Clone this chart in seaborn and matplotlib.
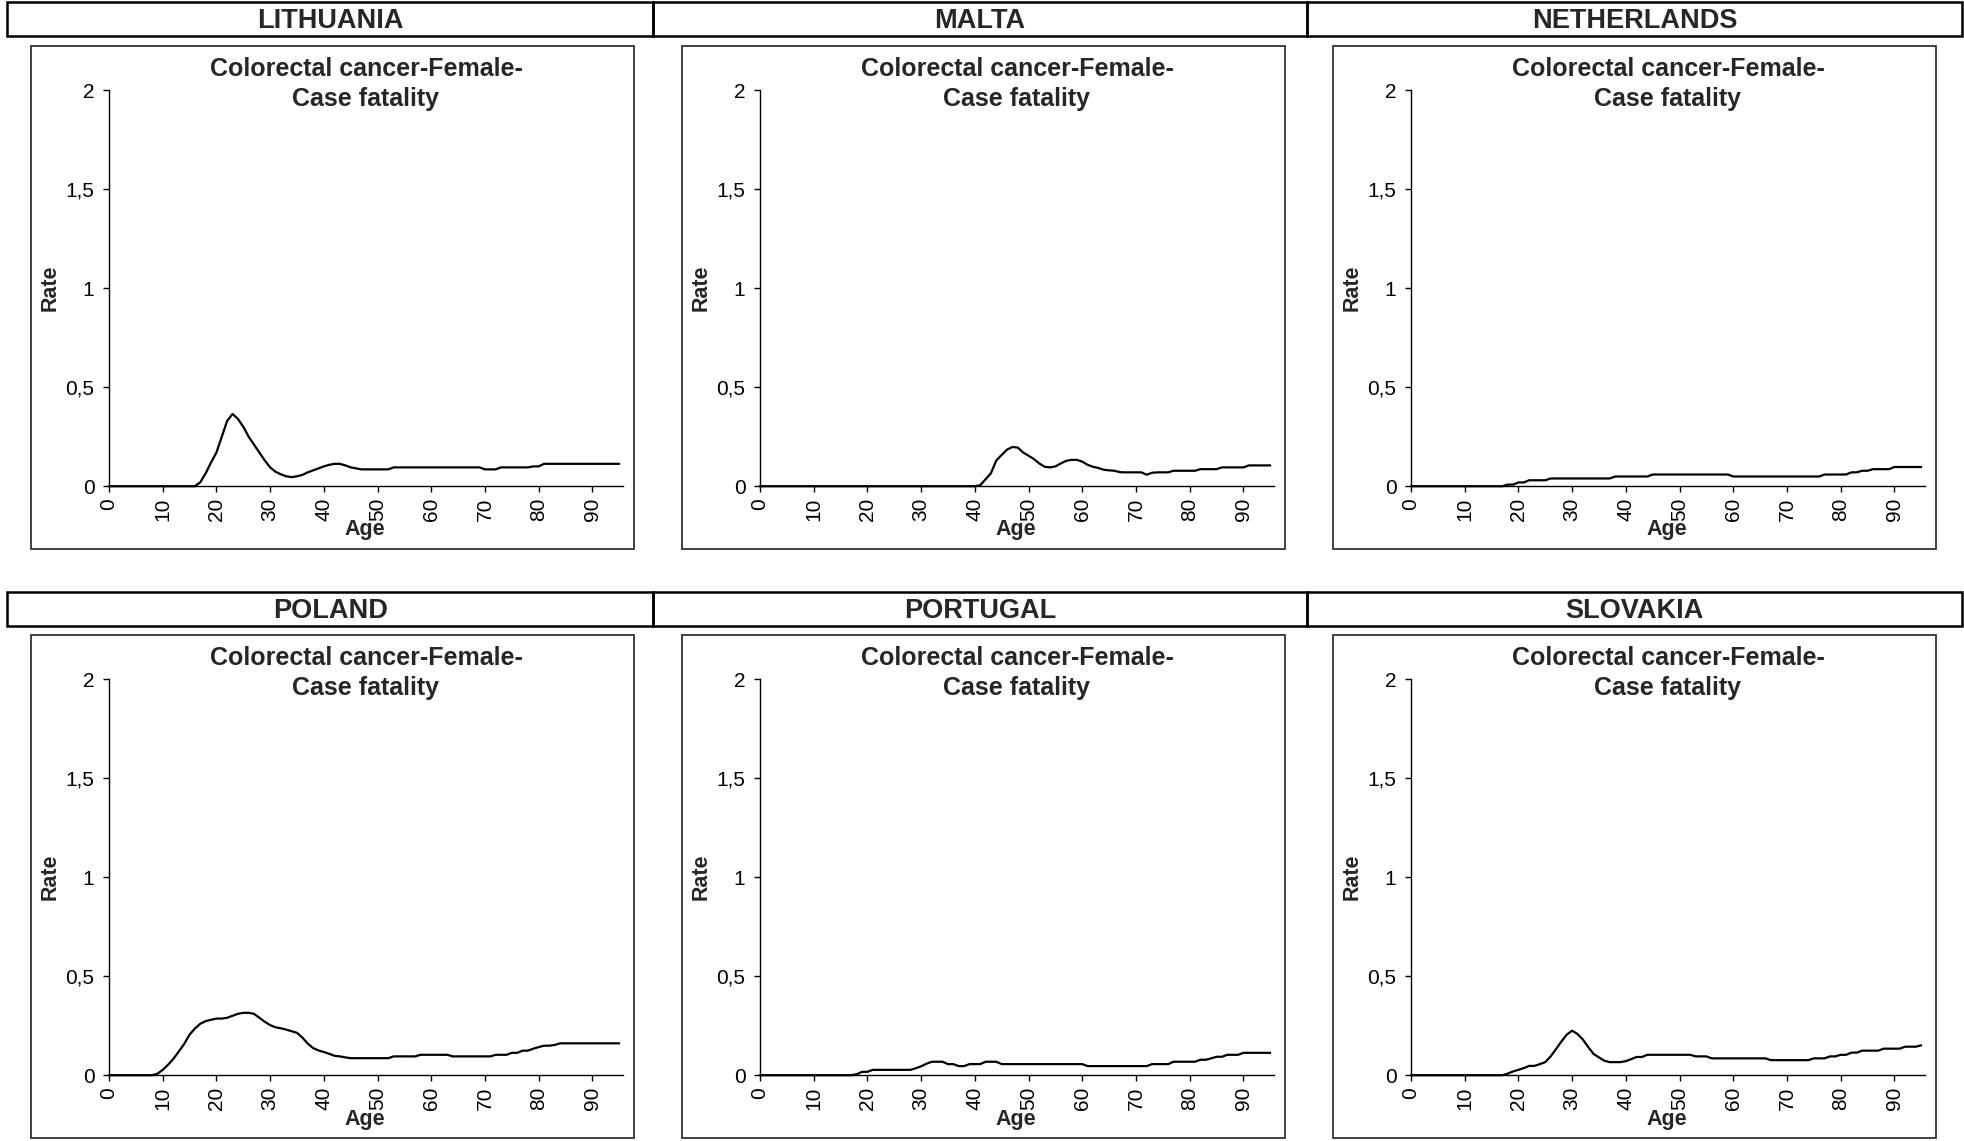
import matplotlib
matplotlib.use('Agg')
import numpy as np
import pandas as pd
import seaborn as sns
import matplotlib.pyplot as plt
from matplotlib import font_manager
from matplotlib.patches import Rectangle

# ---- data ----
countries = ['LITHUANIA', 'MALTA', 'NETHERLANDS', 'POLAND', 'PORTUGAL', 'SLOVAKIA']
ages = list(range(96))

lithuania = ([0] * 17 +
             [0.02, 0.065, 0.12, 0.17, 0.25, 0.33, 0.365, 0.34, 0.30, 0.25, 0.21, 0.17, 0.13, 0.095,
              0.073, 0.06, 0.05, 0.046, 0.05, 0.057, 0.07, 0.08, 0.09, 0.10, 0.108, 0.113, 0.113,
              0.105, 0.095, 0.09] +
             [0.085] * 6 + [0.095] * 17 + [0.085] * 3 + [0.095] * 6 + [0.10] * 2 + [0.113] * 15)

malta = ([0] * 41 +
         [0.005, 0.035, 0.066, 0.13, 0.158, 0.185, 0.198, 0.195, 0.17, 0.154, 0.137, 0.115, 0.098,
          0.095, 0.10, 0.115, 0.128, 0.133, 0.133, 0.124, 0.108, 0.098, 0.092, 0.083, 0.08, 0.078,
          0.071] +
         [0.07] * 4 + [0.058, 0.068] + [0.07] * 3 + [0.078] * 5 + [0.086] * 4 + [0.095] * 5 +
         [0.105] * 5)

netherlands = ([0] * 18 + [0.008] * 2 + [0.019] * 2 + [0.03] * 4 + [0.039] * 12 + [0.049] * 7 +
               [0.059] * 15 + [0.049] * 17 + [0.059] * 5 + [0.07] * 2 + [0.078] * 2 +
               [0.086] * 4 + [0.097] * 6)

poland = ([0] * 9 +
          [0.007, 0.027, 0.053, 0.083, 0.12, 0.158, 0.205, 0.236, 0.26, 0.273, 0.28, 0.286, 0.286,
           0.29, 0.30, 0.31, 0.315, 0.315, 0.31, 0.29, 0.27, 0.253, 0.242, 0.237, 0.23, 0.222,
           0.214, 0.19, 0.16, 0.137, 0.125, 0.117, 0.108, 0.098, 0.095, 0.09] +
          [0.086] * 8 + [0.095] * 5 + [0.103] * 6 + [0.095] * 8 + [0.103] * 3 + [0.113] * 2 +
          [0.124] * 2 + [0.134, 0.142] + [0.149] * 2 + [0.153] + [0.161] * 12)

portugal = ([0] * 18 + [0.005] + [0.017] * 2 + [0.027] * 8 + [0.035, 0.045, 0.058] +
            [0.068] * 3 + [0.056] * 2 + [0.046] * 2 + [0.056] * 3 + [0.068] * 3 + [0.056] * 16 +
            [0.046] * 12 + [0.056] * 4 + [0.068] * 5 + [0.078] * 2 + [0.085] + [0.093] * 2 +
            [0.103] * 3 + [0.113] * 6)

slovakia = ([0] * 18 +
            [0.008, 0.019, 0.027, 0.036, 0.047, 0.047, 0.056, 0.066, 0.095, 0.132, 0.17, 0.205,
             0.225, 0.208, 0.18, 0.142, 0.107, 0.09, 0.073] +
            [0.066] * 3 + [0.071, 0.081] + [0.092] * 2 + [0.103] * 9 + [0.095] * 3 + [0.085] * 11 +
            [0.076] * 8 + [0.085] * 3 + [0.095] * 2 + [0.103] * 2 + [0.114] * 2 + [0.124] * 4 +
            [0.134] * 4 + [0.144] * 3 + [0.151])

series = [lithuania, malta, netherlands, poland, portugal, slovakia]

panel_title = 'Colorectal cancer-Female-\nCase fatality'
x_ticks = [0, 10, 20, 30, 40, 50, 60, 70, 80, 90]
y_ticks = [0, 0.5, 1, 1.5, 2]
y_tick_labels = ['0', '0,5', '1', '1,5', '2']

df = pd.DataFrame({
    'country': np.repeat(countries, len(ages)),
    'age': ages * len(countries),
    'rate': np.concatenate(series),
})

# ---- style ----
sns.set_theme(style='white')
plt.rcParams['font.family'] = ['Liberation Sans', 'DejaVu Sans']

installed = {f.name for f in font_manager.fontManager.ttflist}
if 'Liberation Sans Narrow' in installed:
    narrow = ['Liberation Sans Narrow', 'Liberation Sans', 'DejaVu Sans']
    head_size, title_size = 23.5, 21.5
else:
    narrow = ['Liberation Sans', 'DejaVu Sans']
    head_size, title_size = 19.5, 18
# distance between the two title lines is about 32.6 px
title_spacing = 32.6 / (title_size * 100 / 72)

W, H = 1965, 1141
fig = plt.figure(figsize=(W / 100, H / 100), dpi=100)
fig.patch.set_facecolor('white')


def fx(px):
    return px / W


def fy(py):
    return 1 - py / H


header_edges = [7.5, 653, 1307, 1962]

for i, name in enumerate(countries):
    r, c = divmod(i, 3)
    dx, dy = 651 * c, 589 * r

    # header box with country name
    hy = 590 * r
    fig.add_artist(Rectangle((fx(header_edges[c]), fy(36.3 + hy)),
                             (header_edges[c + 1] - header_edges[c]) / W, 33.8 / H,
                             transform=fig.transFigure, fill=False, ec='black', lw=1.8))
    fig.text(fx((header_edges[c] + header_edges[c + 1]) / 2), fy(21.5 + hy), name,
             ha='center', va='center', fontsize=head_size, fontweight='bold', family=narrow)

    # chart frame
    fig.add_artist(Rectangle((fx(31.3 + dx), fy(549 + dy)), 603 / W, 502.6 / H,
                             transform=fig.transFigure, fill=False, ec='#333333', lw=1.3))

    ax = fig.add_axes([fx(109 + dx), fy(486.2 + dy), 514 / W, 396 / H])
    ax.patch.set_alpha(0)
    sns.lineplot(data=df[df['country'] == name], x='age', y='rate', ax=ax,
                 color='black', lw=1.6, clip_on=False)
    ax.set_xlim(0, 95.7)
    ax.set_ylim(0, 2)
    ax.set_xticks(x_ticks)
    ax.set_xticklabels([str(t) for t in x_ticks], rotation=90)
    ax.set_yticks(y_ticks)
    ax.set_yticklabels(y_tick_labels)
    ax.set_xlabel('')
    ax.set_ylabel('')
    for s in ['top', 'right']:
        ax.spines[s].set_visible(False)
    for s in ['left', 'bottom']:
        ax.spines[s].set_color('black')
        ax.spines[s].set_linewidth(1.0)
    ax.tick_params(axis='x', bottom=True, length=4.5, width=1, pad=4, labelsize=15,
                   colors='black')
    ax.tick_params(axis='y', left=True, length=4.5, width=1, pad=6, labelsize=15,
                   colors='black')

    fig.text(fx(366 + dx), fy(84 + dy), panel_title, ha='center', va='center',
             fontsize=title_size, fontweight='bold', family=narrow, linespacing=title_spacing)
    fig.text(fx(50 + dx), fy(288 + dy), 'Rate', rotation=90, ha='center', va='center',
             fontsize=15.5, fontweight='bold')
    fig.text(fx(365 + dx), fy(530 + dy), 'Age', ha='center', va='center',
             fontsize=15.5, fontweight='bold')

fig.savefig('out.png', dpi=100, facecolor='white')
